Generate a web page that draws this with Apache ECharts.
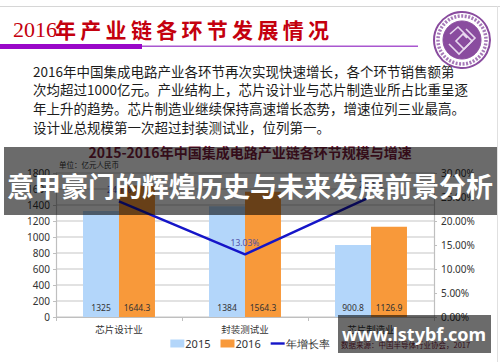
<!DOCTYPE html>
<html><head><meta charset="utf-8">
<script src="https://cdn.jsdelivr.net/npm/echarts@6/dist/echarts.min.js"></script>
<style>html,body{margin:0;padding:0;background:#fff;overflow:hidden}#c{width:500px;height:362px}</style>
</head><body><div id="c"></div>
<script>
// ---- data ----
const categories = ['芯片设计业', '封装测试业', '芯片制造业'];
const sales2015 = [1325, 1384, 900.8];
const sales2016 = [1644.3, 1564.3, 1126.9];
const growthRate = [24.1, 13.03, 25.1];   // 年增长率 (%)
const seriesNames = ['2015', '2016', '年增长率'];
const leftAxisMin = 0, leftAxisMax = 1800, leftAxisStep = 200;
const rightAxisMin = 0, rightAxisMax = 30, rightAxisStep = 5;

// ---- slide texts ----
const slideTitleYear = '2016';
const slideTitleRest = '年产业链各环节发展情况';
const paragraphLines = [
  '2016年中国集成电路产业各环节再次实现快速增长，各个环节销售额第',
  '次均超过1000亿元。产业结构上，芯片设计业与芯片制造业所占比重呈逐',
  '年上升的趋势。芯片制造业继续保持高速增长态势，增速位列三业最高。',
  '设计业总规模第一次超过封装测试业，位列第一。'
];
const chartTitle = '2015-2016年中国集成电路产业链各环节规模与增速';
const unitText = '单位：亿元人民币';
const sourceText = '数据来源：中国半导体行业协会，2017';
const bannerText = '意甲豪门的辉煌历史与未来发展前景分析';
const siteText = 'www.lstybf.com';

const CJK = '"Noto Sans CJK SC", "Noto Sans", sans-serif';
const chart = echarts.init(document.getElementById('c'), null, {renderer: 'svg'});

const graphics = [];
// top border line
graphics.push({type: 'rect', shape: {x: 0, y: 6, width: 500, height: 1}, style: {fill: '#d6d6d6'}, z: 1});
// slide title
graphics.push({type: 'text', x: 13, y: 29, style: {text: slideTitleYear, font: '22px "Liberation Serif", serif', fill: '#c4000e', textVerticalAlign: 'middle'}, z: 2});
slideTitleRest.split('').forEach((ch, i) => {
  graphics.push({type: 'text', x: 55 + i * 25.3, y: 29, style: {text: ch, font: 'bold 21px ' + CJK, fill: '#c4000e', textVerticalAlign: 'middle'}, z: 2});
});
// underline
graphics.push({type: 'rect', shape: {x: 0, y: 44, width: 142, height: 5}, style: {fill: '#9a08c8'}, z: 2});
graphics.push({type: 'rect', shape: {x: 142, y: 45.5, width: 276, height: 1.6}, style: {fill: '#a957cf'}, z: 2});
// paragraph
paragraphLines.forEach((ln, i) => {
  graphics.push({type: 'text', x: 33, y: 70.5 + i * 18.7, style: {text: ln, font: '13.5px ' + CJK, fill: '#1c1c1c', textVerticalAlign: 'middle'}, z: 2});
});
// logo
const lc = [462, 40];
graphics.push({type: 'circle', shape: {cx: lc[0], cy: lc[1], r: 28}, style: {fill: '#fff', stroke: '#8a4c9f', lineWidth: 2}, z: 5});
graphics.push({type: 'circle', shape: {cx: lc[0], cy: lc[1], r: 24}, style: {fill: 'none', stroke: '#a679b8', lineWidth: 3.5, lineDash: [2, 1.5]}, z: 5});
graphics.push({type: 'circle', shape: {cx: lc[0], cy: lc[1], r: 19}, style: {fill: '#8a4c9f', stroke: '#8a4c9f', lineWidth: 1}, z: 5});
graphics.push({type: 'polyline', shape: {points: [[lc[0]-12, lc[1]-6], [lc[0]-4, lc[1]-13], [lc[0]+10, lc[1]+1], [lc[0]+2, lc[1]+9], [lc[0]-6, lc[1]+1], [lc[0]+1, lc[1]-6], [lc[0]+5, lc[1]-2]]}, style: {stroke: '#e8d8ef', lineWidth: 1.6, fill: null}, z: 6});
graphics.push({type: 'polyline', shape: {points: [[lc[0]-13, lc[1]+4], [lc[0]-3, lc[1]+14], [lc[0]+13, lc[1]-2], [lc[0]+4, lc[1]-11]]}, style: {stroke: '#e8d8ef', lineWidth: 1.6, fill: null}, z: 6});
// chart title, unit, source
graphics.push({type: 'text', x: 250, y: 152, style: {text: chartTitle, font: 'bold 14px ' + CJK, fill: '#7c1d3d', textAlign: 'center', textVerticalAlign: 'middle'}, z: 2});
graphics.push({type: 'text', x: 59, y: 164, style: {text: unitText, font: '7.5px ' + CJK, fill: '#333', textVerticalAlign: 'middle'}, z: 2});
graphics.push({type: 'text', x: 341, y: 344, style: {text: sourceText, font: '7.5px ' + CJK, fill: '#7c1d3d', textVerticalAlign: 'middle'}, z: 2});
// right border
graphics.push({type: 'rect', shape: {x: 497, y: 6, width: 1, height: 356}, style: {fill: '#e0e0e0'}, z: 1});
// watermark banner
graphics.push({type: 'rect', shape: {x: 4, y: 147, width: 493, height: 68}, style: {fill: 'rgba(0,0,0,0.58)'}, z: 100});
graphics.push({type: 'text', x: 250, y: 185, style: {text: bannerText, font: 'bold 27px ' + CJK, fill: '#fff', textAlign: 'center', textVerticalAlign: 'middle'}, z: 101});
graphics.push({type: 'rect', shape: {x: 338, y: 315, width: 153, height: 38}, style: {fill: 'rgba(0,0,0,0.58)'}, z: 100});
graphics.push({type: 'text', x: 414, y: 334, style: {text: siteText, font: 'bold 18px "Noto Sans", sans-serif', fill: '#fff', textAlign: 'center', textVerticalAlign: 'middle'}, z: 101});

const axisGray = '#bfbfbf';
chart.setOption({
  animation: false,
  backgroundColor: '#fff',
  textStyle: {fontFamily: CJK},
  grid: {left: 56, right: 66, top: 173, bottom: 45, containLabel: false},
  legend: {
    top: 338, left: 'center', itemWidth: 14, itemHeight: 8, itemGap: 10, padding: 0,
    textStyle: {fontSize: 11, color: '#333', fontFamily: '"Noto Sans", sans-serif', padding: [0, 0, 0, -4]},
    data: [
      {name: seriesNames[0], icon: 'rect'},
      {name: seriesNames[1], icon: 'rect'},
      {name: seriesNames[2], icon: 'path://M0,0H14V2.4H0Z'}
    ]
  },
  xAxis: {
    type: 'category', data: categories,
    axisLine: {lineStyle: {color: axisGray, width: 1.2}},
    axisTick: {show: true, length: 4, lineStyle: {color: axisGray}},
    axisLabel: {fontSize: 9.5, color: '#333', margin: 7}
  },
  yAxis: [
    {
      type: 'value', min: leftAxisMin, max: leftAxisMax, interval: leftAxisStep,
      axisLine: {show: true, lineStyle: {color: axisGray, width: 1.2}},
      axisTick: {show: true, length: 3, lineStyle: {color: axisGray}},
      axisLabel: {fontSize: 10, color: '#333', margin: 6, fontFamily: '"Noto Sans", sans-serif',
        formatter: v => String(v)},
      splitLine: {lineStyle: {color: '#d9d9d9', width: 1.5}}
    },
    {
      type: 'value', min: rightAxisMin, max: rightAxisMax, interval: rightAxisStep,
      axisLine: {show: true, lineStyle: {color: axisGray, width: 1.2}},
      axisTick: {show: true, length: 3, lineStyle: {color: axisGray}},
      axisLabel: {fontSize: 10, color: '#333', margin: 7, fontFamily: '"Noto Sans", sans-serif',
        formatter: v => v.toFixed(2) + '%'},
      splitLine: {show: false}
    }
  ],
  series: [
    {
      name: seriesNames[0], type: 'bar', data: sales2015, barGap: '0%', barCategoryGap: '42.9%',
      itemStyle: {color: '#b3d6fa'},
      label: {show: true, position: 'insideBottom', distance: 5, fontSize: 8.5, color: '#333', fontFamily: '"Noto Sans", sans-serif'}
    },
    {
      name: seriesNames[1], type: 'bar', data: sales2016,
      itemStyle: {color: '#f8993a'},
      label: {show: true, position: 'insideBottom', distance: 5, fontSize: 8.5, color: '#333', fontFamily: '"Noto Sans", sans-serif'}
    },
    {
      name: seriesNames[2], type: 'line', yAxisIndex: 1, data: growthRate,
      symbol: 'circle', symbolSize: 0.1, z: 5,
      itemStyle: {color: '#1515c8'},
      lineStyle: {color: '#1515c8', width: 2.5},
      label: {show: true, position: 'top', distance: 7, fontSize: 8.5, color: '#5050a8',
        fontFamily: '"Noto Sans", sans-serif', formatter: p => p.value + '%'}
    }
  ],
  graphic: graphics
});
</script>
</body></html>
